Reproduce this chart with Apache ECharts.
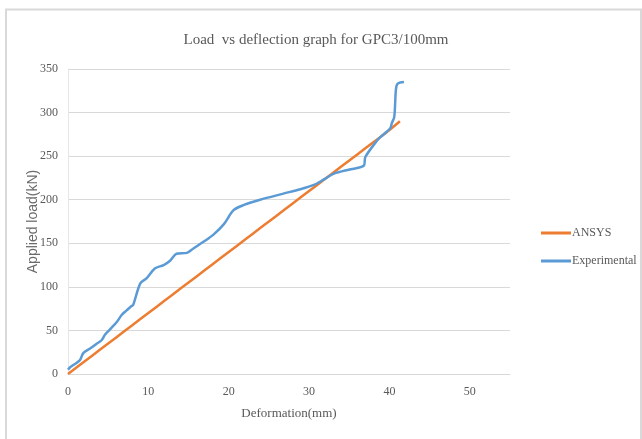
<!DOCTYPE html>
<html><head><meta charset="utf-8">
<script src="https://cdn.jsdelivr.net/npm/echarts@6/dist/echarts.min.js"></script>
<style>html,body{margin:0;padding:0;background:#fff}#c{width:642px;height:439px}</style>
</head><body><div id="c"></div>
<script>
const titleText = 'Load  vs deflection graph for GPC3/100mm';
const xName = 'Deformation(mm)';
const yName = 'Applied load(kN)';
const seriesNames = ['ANSYS', 'Experimental'];
const ansysX = [0, 2, 4, 6, 8, 10, 12, 14, 16, 18, 20, 22, 24, 26, 28, 30, 32, 34, 36, 38, 40, 41.3];
const ansysY = [0, 14, 28, 42, 56, 70, 84, 98, 112, 126, 140, 154, 168, 182, 196, 210, 224, 238, 252, 266, 280, 290];
const expX = [0, 0.3, 1.1, 1.5, 1.9, 2.7, 3.6, 4.2, 4.6, 5.2, 6.1, 6.7, 7.3, 7.9, 8.1, 9.0, 9.8, 10.8, 11.9, 12.7, 13.5, 14.8, 15.6, 16.9, 18.1, 19.4, 20.6, 21.9, 23.9, 26.8, 28.9, 30.6, 31.8, 33.1, 35.2, 36.8, 37.0, 38.3, 38.9, 40.1, 40.3, 40.6, 40.8, 41.0, 41.8];
const expY = [5, 8, 13, 16, 24, 29, 35, 39, 45, 51, 60, 68, 73, 78, 79, 104, 110, 121, 125, 130, 138, 139, 144, 152, 160, 172, 188, 194, 200, 207, 212, 217, 223, 230, 235, 239, 249, 266, 272, 282, 288, 295, 326, 333, 335];
const xTicks = {min: 0, max: 55, interval: 10};
const yTicks = {min: 0, max: 350, interval: 50};

const zip = (xs, ys) => xs.map((x, i) => [x, ys[i]]);
const chart = echarts.init(document.getElementById('c'));
const serif = '"Liberation Serif", "DejaVu Serif", serif';
chart.setOption({
  animation: false,
  backgroundColor: '#fff',
  graphic: [{type: 'rect', shape: {x: 6, y: 9.5, width: 635, height: 445}, style: {fill: 'none', stroke: '#d9d9d9', lineWidth: 2}, silent: true}],
  title: {text: titleText, left: 311, top: 28, textAlign: 'center',
    textStyle: {fontFamily: serif, fontSize: 15, fontWeight: 'normal', color: '#595959'}},
  grid: {left: 68, right: 132, top: 69, bottom: 65},
  legend: {orient: 'vertical', left: 536, top: 222, itemWidth: 30, itemHeight: 3, itemGap: 16,
    icon: 'rect', textStyle: {fontFamily: serif, fontSize: 12, color: '#595959', padding: [0, 0, 0, -4]},
    data: seriesNames},
  xAxis: {type: 'value', min: xTicks.min, max: xTicks.max, interval: xTicks.interval,
    name: xName, nameLocation: 'middle', nameGap: 33, nameMoveOverlap: false,
    nameTextStyle: {fontFamily: serif, fontSize: 13, color: '#595959'},
    axisLine: {show: true, lineStyle: {color: '#d9d9d9', width: 1}},
    axisTick: {show: false}, splitLine: {show: false},
    axisLabel: {fontFamily: serif, fontSize: 12, color: '#595959', margin: 12,
      formatter: v => (v % 10 === 0 ? String(v) : '')}},
  yAxis: {type: 'value', min: yTicks.min, max: yTicks.max, interval: yTicks.interval,
    name: yName, nameLocation: 'middle', nameGap: 28, nameMoveOverlap: false,
    nameTextStyle: {fontFamily: '"Liberation Sans", "DejaVu Sans", sans-serif', fontSize: 14, color: '#6a6a6a'},
    axisLine: {show: true, lineStyle: {color: '#e6e6e6', width: 1}},
    axisTick: {show: false},
    splitLine: {lineStyle: {color: '#d9d9d9', width: 1}},
    axisLabel: {fontFamily: serif, fontSize: 12, color: '#595959', margin: 10}},
  series: [
    {name: seriesNames[0], type: 'line', data: zip(ansysX, ansysY), showSymbol: false, smooth: 0.3,
      lineStyle: {color: '#ED7D31', width: 2.5}, itemStyle: {color: '#ED7D31'}},
    {name: seriesNames[1], type: 'line', data: zip(expX, expY), showSymbol: false, smooth: 0.3,
      lineStyle: {color: '#5B9BD5', width: 2.5}, itemStyle: {color: '#5B9BD5'}}
  ]
});
</script></body></html>
